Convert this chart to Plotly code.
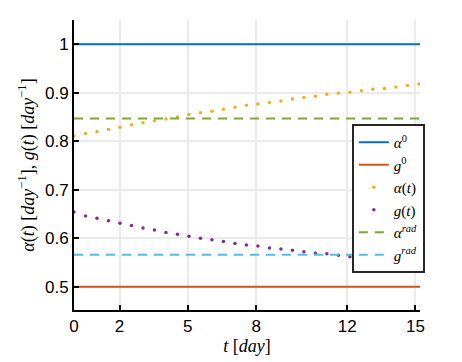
import plotly.graph_objects as go

# time grid (days)
t = [0.0, 0.505, 1.01, 1.515, 2.02, 2.525, 3.03, 3.535, 4.04, 4.545, 5.05,
     5.555, 6.06, 6.565, 7.07, 7.575, 8.08, 8.585, 9.09, 9.595, 10.1,
     10.605, 11.11, 11.615, 12.12, 12.625, 13.13, 13.635, 14.14, 14.645, 15.15]
alpha_t = [0.811, 0.816, 0.820, 0.824, 0.829, 0.834, 0.838, 0.842, 0.846, 0.850,
           0.855, 0.859, 0.862, 0.866, 0.870, 0.874, 0.877, 0.880, 0.883, 0.887,
           0.890, 0.893, 0.897, 0.899, 0.901, 0.904, 0.907, 0.909, 0.912, 0.915, 0.918]
g_t = [0.654, 0.646, 0.641, 0.636, 0.631, 0.626, 0.621, 0.617, 0.612, 0.608,
       0.604, 0.600, 0.597, 0.593, 0.589, 0.586, 0.584, 0.580, 0.578, 0.575,
       0.572, 0.569, 0.568, 0.565, 0.562, 0.560, 0.558, 0.556, 0.554, 0.553, 0.551]
alpha0 = 1.0
g0 = 0.5
alpha_rad = 0.847
g_rad = 0.566
x_span = [0, 15.2]
x_ticks = [0, 2, 5, 8, 12, 15]
y_ticks = [0.5, 0.6, 0.7, 0.8, 0.9, 1.0]
y_ticklabels = ["0.5", "0.6", "0.7", "0.8", "0.9", "1"]

C_BLUE = "#0072BD"
C_ORANGE = "#D95319"
C_YELLOW = "#EDB120"
C_PURPLE = "#7E2F8E"
C_GREEN = "#77AC30"
C_CYAN = "#4DBEEE"

fig = go.Figure()
fig.add_trace(go.Scatter(x=x_span, y=[alpha0, alpha0], mode="lines",
                         line=dict(color=C_BLUE, width=2),
                         name="<i>α</i><sup>0</sup>"))
fig.add_trace(go.Scatter(x=x_span, y=[g0, g0], mode="lines",
                         line=dict(color=C_ORANGE, width=2),
                         name="<i>g</i><sup>0</sup>"))
fig.add_trace(go.Scatter(x=t, y=alpha_t, mode="markers",
                         marker=dict(color=C_YELLOW, size=3.5),
                         name="<i>α</i>(<i>t</i>)"))
fig.add_trace(go.Scatter(x=t, y=g_t, mode="markers",
                         marker=dict(color=C_PURPLE, size=3.5),
                         name="<i>g</i>(<i>t</i>)"))
fig.add_trace(go.Scatter(x=x_span, y=[alpha_rad, alpha_rad], mode="lines",
                         line=dict(color=C_GREEN, width=2, dash="9px,7px"),
                         name="<i>α</i><sup><i>rad</i></sup>"))
fig.add_trace(go.Scatter(x=x_span, y=[g_rad, g_rad], mode="lines",
                         line=dict(color=C_CYAN, width=2, dash="9px,7px"),
                         name="<i>g</i><sup><i>rad</i></sup>"))

fig.update_layout(
    width=462, height=362,
    margin=dict(l=66, r=50, t=12, b=60),
    paper_bgcolor="white", plot_bgcolor="white",
    font=dict(family="Liberation Sans, Arial, sans-serif", size=17, color="black"),
    legend=dict(x=0.803, y=0.641, xanchor="left", yanchor="top",
                bordercolor="#262626", borderwidth=2, bgcolor="white",
                font=dict(family="Liberation Serif, serif", size=15),
                tracegroupgap=0, itemwidth=30),
    showlegend=True,
)
fig.update_xaxes(range=x_span, tickvals=x_ticks, ticktext=[str(v) for v in x_ticks],
                 showgrid=True, gridcolor="#EBEBEB", gridwidth=1.5,
                 showline=True, linecolor="black", linewidth=2,
                 ticks="inside", ticklen=5, tickwidth=2, tickcolor="black",
                 zeroline=False, automargin=False,
                 title=dict(text="<i>t</i> [<i>day</i>]", standoff=2,
                            font=dict(family="Liberation Serif, serif", size=18)))
fig.update_yaxes(range=[0.452, 1.05], tickvals=y_ticks, ticktext=y_ticklabels,
                 showgrid=True, gridcolor="#EBEBEB", gridwidth=1.5,
                 showline=True, linecolor="black", linewidth=2,
                 ticks="inside", ticklen=5, tickwidth=2, tickcolor="black",
                 zeroline=False, automargin=False,
                 title=dict(text="<i>α</i>(<i>t</i>) [<i>day</i><sup>−1</sup>], <i>g</i>(<i>t</i>) [<i>day</i><sup>−1</sup>]",
                            standoff=6,
                            font=dict(family="Liberation Serif, serif", size=18)))

fig.write_html("out.html")
